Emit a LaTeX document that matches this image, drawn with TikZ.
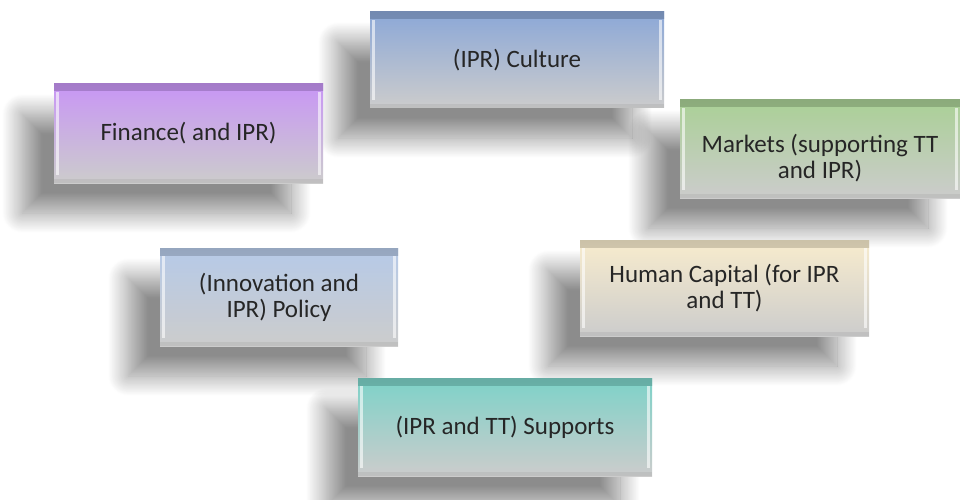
\documentclass[tikz,border=0pt]{standalone}
\usepackage{fontspec}
\setmainfont{Carlito}
\usepackage{xcolor}
\usetikzlibrary{shadows.blur}

\definecolor{finpurple}{RGB}{200,150,245}
\definecolor{culblue}{RGB}{140,168,215}
\definecolor{mktgreen}{RGB}{170,208,150}
\definecolor{polblue}{RGB}{182,202,232}
\definecolor{capcream}{RGB}{248,236,205}
\definecolor{supteal}{RGB}{125,210,200}
\colorlet{tilegray}{black!20}

\begin{document}
\begin{tikzpicture}[x=1pt, y=-1pt,
		tile/.style={
			blur shadow={shadow xshift=-32pt, shadow yshift=-30pt, shadow blur radius=20pt, shadow blur steps=25, shadow opacity=45},
			top color=#1, middle color=#1!40!tilegray, bottom color=tilegray,
			inner sep=0pt, align=center, text=black!85,
			font=\fontsize{25}{26}\selectfont,
			path picture={
				\shade[top color=#1!82!black, bottom color=#1] (path picture bounding box.north west) rectangle ([yshift=-7pt]path picture bounding box.north east);
				\fill[white, opacity=.6] ([xshift=2pt,yshift=-8pt]path picture bounding box.north west) rectangle ([xshift=5pt,yshift=8pt]path picture bounding box.south west);
				\fill[white, opacity=.6] ([xshift=-2pt,yshift=-8pt]path picture bounding box.north east) rectangle ([xshift=-5pt,yshift=8pt]path picture bounding box.south east);
				\fill[black, opacity=.06] ([yshift=4pt]path picture bounding box.south west) rectangle (path picture bounding box.south east);
			}
		}]
			\useasboundingbox (0,0) rectangle (960,500);
			% the six tiles
			\node[tile=culblue, minimum width=294pt, minimum height=96pt] (culture) at (517,60) {(IPR) Culture};
			\node[tile=finpurple, minimum width=269pt, minimum height=99pt] (finance) at (188.5,133.5) {Finance( and IPR)};
			\node[tile=mktgreen, minimum width=280pt, minimum height=98pt] (markets) at (820,149) {\rule{0pt}{36pt}Markets (supporting TT\\and IPR)};
			\node[tile=polblue, minimum width=238pt, minimum height=98pt] (policy) at (279,297) {(Innovation and\\IPR) Policy};
			\node[tile=capcream, minimum width=289pt, minimum height=96pt] (capital) at (724.5,288) {Human Capital (for IPR\\and TT)};
			\node[tile=supteal, minimum width=294pt, minimum height=98pt] (supports) at (505,427) {(IPR and TT) Supports};
		\end{tikzpicture}
\end{document}
